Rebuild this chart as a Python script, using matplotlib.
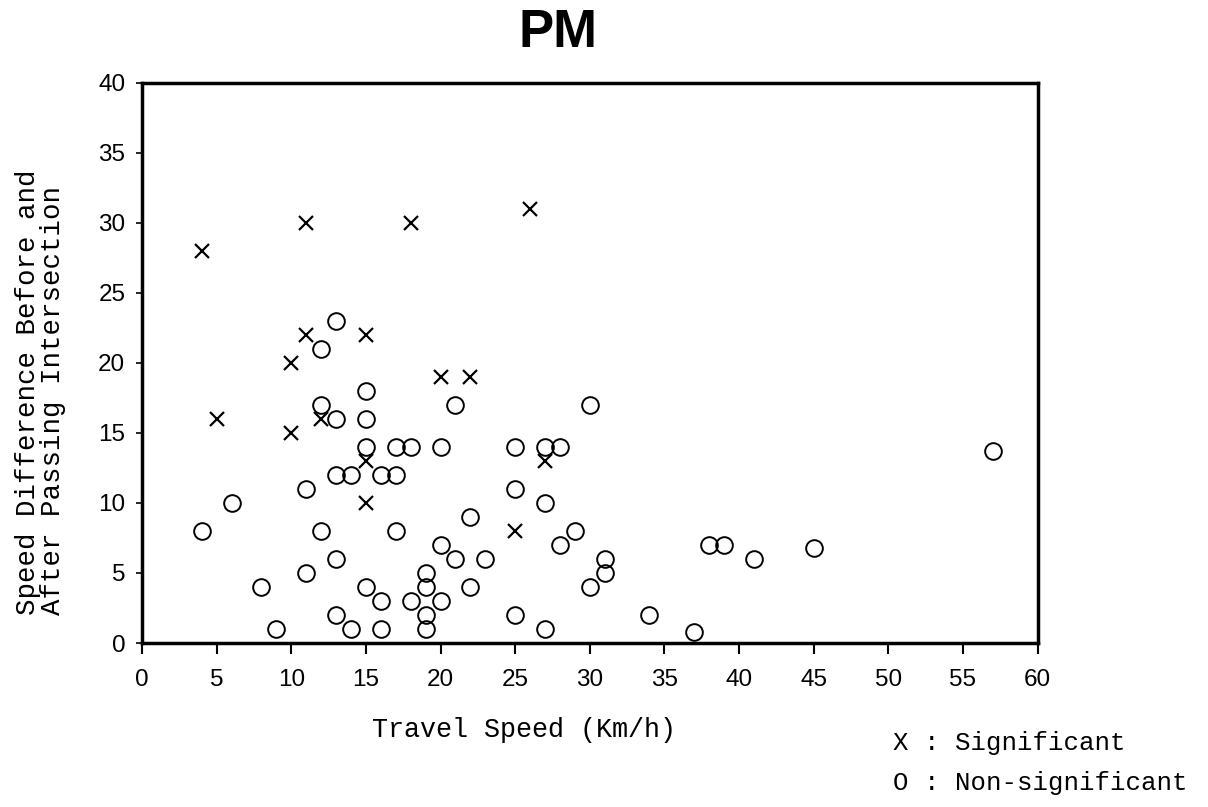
import matplotlib
matplotlib.use("Agg")
import matplotlib.pyplot as plt

# Significant (X) points: travel speed, speed difference
sig_speed = [4, 11, 18, 26, 11, 15, 10, 20, 22, 5, 12, 10, 15, 27, 15, 25]
sig_diff  = [28, 30, 30, 31, 22, 22, 20, 19, 19, 16, 16, 15, 13, 13, 10, 8]

# Non-significant (O) points
non_speed = [13, 12, 15, 21, 30, 12, 13, 15, 15, 17, 18, 20, 25, 27, 28, 57,
             13, 14, 16, 17, 11, 25, 6, 27, 22, 4, 12, 17, 29, 28, 20, 38,
             39, 45, 21, 23, 13, 31, 41, 11, 19, 31, 8, 15, 19, 22, 30, 16,
             18, 20, 19, 25, 13, 34, 19, 9, 14, 16, 27, 37]
non_diff  = [23, 21, 18, 17, 17, 17, 16, 16, 14, 14, 14, 14, 14, 14, 14, 13.7,
             12, 12, 12, 12, 11, 11, 10, 10, 9, 8, 8, 8, 8, 7, 7, 7,
             7, 6.8, 6, 6, 6, 6, 6, 5, 5, 5, 4, 4, 4, 4, 4, 3,
             3, 3, 2, 2, 2, 2, 1, 1, 1, 1, 1, 0.8]

x_ticks = [0, 5, 10, 15, 20, 25, 30, 35, 40, 45, 50, 55, 60]
y_ticks = [0, 5, 10, 15, 20, 25, 30, 35, 40]

title = "PM"
x_label = "Travel Speed (Km/h)"
y_label = "Speed Difference Before and\nAfter Passing Intersection"
legend_lines = ["X : Significant", "O : Non-significant"]

W, H = 1208, 807
fig = plt.figure(figsize=(W / 100, H / 100), dpi=100)
ax = fig.add_axes([142 / W, 1 - 643 / H, (1037.5 - 142) / W, (643 - 82.5) / H])

ax.plot(non_speed, non_diff, linestyle="none", marker="o", ms=12,
        mfc="none", mec="black", mew=1.4, clip_on=False)
ax.plot(sig_speed, sig_diff, linestyle="none", marker="x", ms=10,
        color="black", mew=1.6, clip_on=False)

ax.set_xlim(0, 60)
ax.set_ylim(0, 40)
ax.set_xticks(x_ticks)
ax.set_yticks(y_ticks)
tick_font = dict(family=["Liberation Sans", "DejaVu Sans"], size=17.5)
ax.set_xticklabels([str(t) for t in x_ticks], **tick_font)
ax.set_yticklabels([str(t) for t in y_ticks], **tick_font)
ax.tick_params(axis="x", direction="out", length=8, width=1.5, pad=11)
ax.tick_params(axis="y", direction="out", length=4, width=1.2, pad=8)
for s in ax.spines.values():
    s.set_linewidth(2.5)

mono = ["Liberation Mono", "DejaVu Sans Mono"]
fig.text(524 / W, 1 - 730 / H, x_label, ha="center", va="center",
         family=mono, fontsize=19.3)
fig.text(40.5 / W, 1 - 615 / H, y_label, rotation=90, ha="center", va="bottom",
         multialignment="left", family=mono, fontsize=19.8, linespacing=0.92)
fig.text(558 / W, 1 - 33 / H, title, ha="center", va="center",
         family=["Liberation Sans", "DejaVu Sans"], fontweight="bold", fontsize=38)
fig.text(893 / W, 1 - 743 / H, legend_lines[0], ha="left", va="center",
         family=mono, fontsize=18.5)
fig.text(893 / W, 1 - 783 / H, legend_lines[1], ha="left", va="center",
         family=mono, fontsize=18.5)

fig.savefig("out.png", dpi=100)
